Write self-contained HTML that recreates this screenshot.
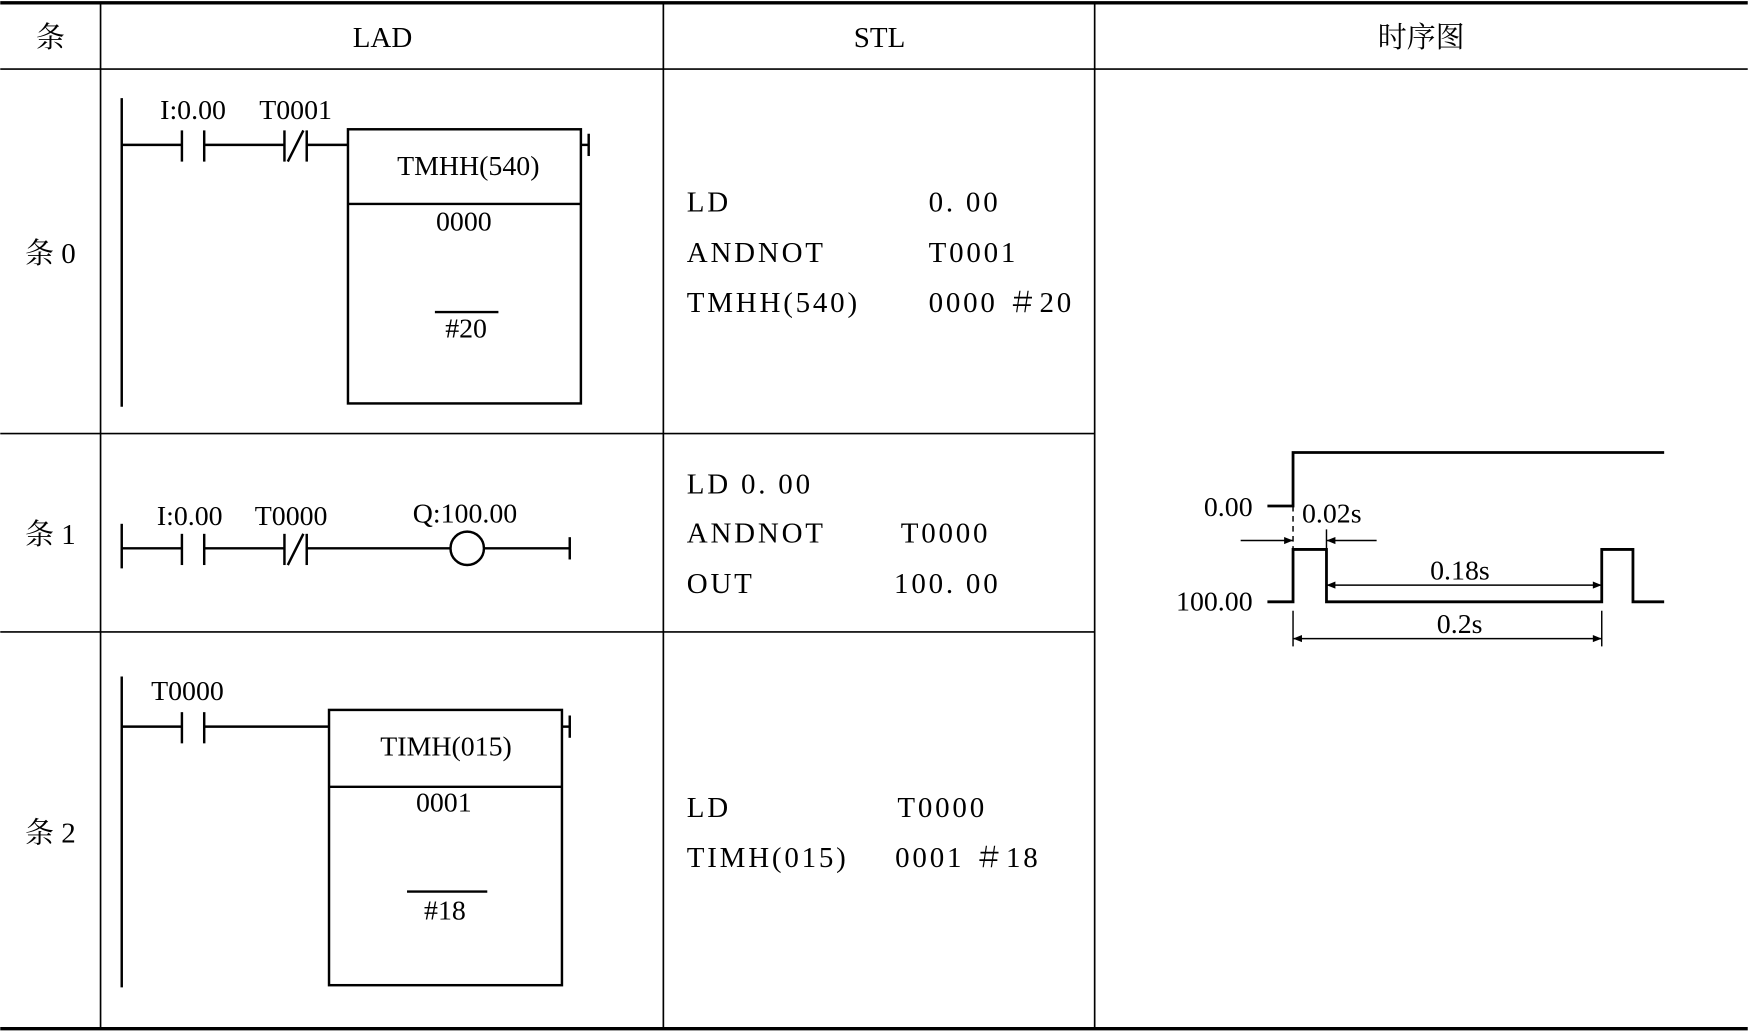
<!DOCTYPE html>
<html><head><meta charset="utf-8"><style>
html,body{margin:0;padding:0;background:#fff;}
svg{display:block;}
text{font-family:"Liberation Serif","Noto Serif CJK SC","Noto Sans CJK SC",serif;fill:#000;}
</style></head><body>
<svg width="1748" height="1032" viewBox="0 0 1568 926" xmlns="http://www.w3.org/2000/svg">
<defs>
<marker id="ar" viewBox="0 0 10 10" refX="10" refY="5" markerWidth="12" markerHeight="8" orient="auto-start-reverse" markerUnits="userSpaceOnUse"><path d="M0,1 L10,5 L0,9 Z" fill="#000"/></marker>
</defs>
<g stroke="#000" fill="none">
<line x1="0" y1="2.5" x2="1568" y2="2.5" stroke-width="3"/>
<line x1="0" y1="62" x2="1568" y2="62" stroke-width="1.5"/>
<line x1="0" y1="923" x2="1568" y2="923" stroke-width="3"/>
<line x1="90" y1="2" x2="90" y2="923" stroke-width="1.5"/>
<line x1="595" y1="2" x2="595" y2="923" stroke-width="1.5"/>
<line x1="982" y1="2" x2="982" y2="923" stroke-width="1.5"/>
<line x1="0" y1="389" x2="982" y2="389" stroke-width="1.5"/>
<line x1="0" y1="567" x2="982" y2="567" stroke-width="1.5"/>
</g>
<g font-size="26" text-anchor="middle">
<text x="45" y="42">条</text>
<text x="343" y="42">LAD</text>
<text x="789" y="42">STL</text>
<text x="1275" y="42">时序图</text>
<text x="45" y="236">条 0</text>
<text x="45" y="488">条 1</text>
<text x="45" y="756">条 2</text>
</g>
<g stroke="#000" stroke-width="2.2" fill="none">
<line x1="109" y1="88" x2="109" y2="365"/>
<polyline points="109,130 163,130"/><line x1="163" y1="117" x2="163" y2="145"/><line x1="183" y1="117" x2="183" y2="145"/>
<polyline points="183,130 255,130"/><line x1="255" y1="117" x2="255" y2="145"/><line x1="275" y1="117" x2="275" y2="145"/><line x1="258" y1="145" x2="272" y2="117"/>
<polyline points="275,130 312,130"/>
<rect x="312" y="116" width="209" height="246"/><line x1="312" y1="183" x2="521" y2="183"/>
<line x1="521" y1="130" x2="528" y2="130"/><line x1="528" y1="120" x2="528" y2="140"/>
<line x1="390" y1="280" x2="447" y2="280"/>
</g>
<g font-size="25" text-anchor="middle">
<text x="173" y="107">I:0.00</text><text x="265" y="107">T0001</text>
<text x="420" y="157">TMHH(540)</text><text x="416" y="207">0000</text><text x="418" y="303">#20</text>
</g>
<g stroke="#000" stroke-width="2.2" fill="none">
<line x1="109" y1="470" x2="109" y2="510"/>
<line x1="109" y1="492" x2="163" y2="492"/><line x1="163" y1="479" x2="163" y2="507"/><line x1="183" y1="479" x2="183" y2="507"/>
<line x1="183" y1="492" x2="255" y2="492"/><line x1="255" y1="479" x2="255" y2="507"/><line x1="275" y1="479" x2="275" y2="507"/><line x1="258" y1="507" x2="272" y2="479"/>
<line x1="275" y1="492" x2="404" y2="492"/><circle cx="419" cy="492" r="15"/><line x1="434" y1="492" x2="511" y2="492"/><line x1="511" y1="482" x2="511" y2="502"/>
</g>
<g font-size="25" text-anchor="middle">
<text x="170" y="471">I:0.00</text><text x="261" y="471">T0000</text><text x="417" y="469">Q:100.00</text>
</g>
<g stroke="#000" stroke-width="2.2" fill="none">
<line x1="109" y1="607" x2="109" y2="886"/>
<line x1="109" y1="652" x2="163" y2="652"/><line x1="163" y1="639" x2="163" y2="667"/><line x1="183" y1="639" x2="183" y2="667"/>
<line x1="183" y1="652" x2="295" y2="652"/>
<rect x="295" y="637" width="209" height="247"/><line x1="295" y1="706" x2="504" y2="706"/>
<line x1="504" y1="652" x2="511" y2="652"/><line x1="511" y1="642" x2="511" y2="662"/>
<line x1="365" y1="800" x2="437" y2="800"/>
</g>
<g font-size="25" text-anchor="middle">
<text x="168" y="628">T0000</text>
<text x="400" y="678">TIMH(015)</text><text x="398" y="728">0001</text><text x="399" y="825">#18</text>
</g>
<g font-size="26" letter-spacing="2.5">
<text x="616" y="190">LD</text><text x="833" y="190">0. 00</text>
<text x="616" y="235">ANDNOT</text><text x="833" y="235">T0001</text>
<text x="616" y="280">TMHH(540)</text><text x="833" y="280">0000 ＃20</text>
<text x="616" y="443">LD 0. 00</text>
<text x="616" y="487">ANDNOT</text><text x="808" y="487">T0000</text>
<text x="616" y="532">OUT</text><text x="802" y="532">100. 00</text>
<text x="616" y="733">LD</text><text x="805" y="733">T0000</text>
<text x="616" y="778">TIMH(015)</text><text x="803" y="778">0001 ＃18</text>
</g>
<g stroke="#000" stroke-width="2.5" fill="none">
<polyline points="1137,454 1160,454 1160,406 1493,406"/>
<polyline points="1137,540 1160,540 1160,493 1190,493 1190,540 1437,540 1437,493 1465,493 1465,540 1493,540"/>
</g>
<g stroke="#000" stroke-width="1.3" fill="none">
<line x1="1160" y1="454" x2="1160" y2="495" stroke-dasharray="5,4"/>
<line x1="1190" y1="475" x2="1190" y2="493"/>
<line x1="1113" y1="485" x2="1160" y2="485" marker-end="url(#ar)"/>
<line x1="1235" y1="485" x2="1190" y2="485" marker-end="url(#ar)"/>
<line x1="1190" y1="525" x2="1437" y2="525" marker-start="url(#ar)" marker-end="url(#ar)"/>
<line x1="1160" y1="548" x2="1160" y2="580"/><line x1="1437" y1="548" x2="1437" y2="580"/>
<line x1="1160" y1="573" x2="1437" y2="573" marker-start="url(#ar)" marker-end="url(#ar)"/>
</g>
<g font-size="25">
<text x="1080" y="463">0.00</text>
<text x="1055" y="548">100.00</text>
<text x="1168" y="469">0.02s</text>
<text x="1283" y="520">0.18s</text>
<text x="1289" y="568">0.2s</text>
</g>
</svg>
</body></html>
